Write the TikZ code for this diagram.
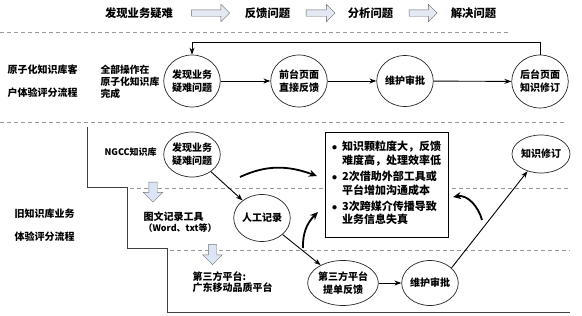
\documentclass[tikz,border=0pt]{standalone}
\usepackage{fontspec}
\setmainfont{Noto Sans CJK SC}
\usetikzlibrary{shapes.geometric,shapes.arrows,arrows.meta}
\definecolor{arrowgrey}{rgb}{0.89,0.91,0.95}
\definecolor{arrowblue}{rgb}{0.86,0.90,0.96}
\begin{document}
\begin{tikzpicture}[
    x=1pt, y=-1pt,
    every node/.style={font=\bfseries\fontsize{10}{13}\selectfont},
    header/.style={font=\bfseries\fontsize{11.3}{13}\selectfont},
    stage/.style={ellipse, draw=black!85, line width=0.7pt, inner sep=0pt,
        align=center, minimum width=54pt, minimum height=50pt},
    flow/.style={draw, line width=0.9pt, -{Stealth[length=7pt, width=5pt]}},
    bendy/.style={line width=1.8pt, -{Stealth[length=8pt, width=7pt]}},
    lane/.style={draw=black!40, dash pattern=on 4pt off 3pt, line width=0.7pt},
    wall/.style={draw=black!75, line width=0.9pt},
    hollowright/.style={single arrow, draw=black!60, fill=arrowgrey,
        minimum height=38pt, minimum width=17pt, inner sep=3pt,
        single arrow head extend=5.5pt},
    hollowdown/.style={single arrow, shape border rotate=270, draw=black!55,
        fill=arrowblue, minimum height=20pt, minimum width=19pt, inner sep=4pt,
        single arrow head extend=5.5pt},
]
\useasboundingbox (0,0) rectangle (582,316);

\node[header] (h1) at (139,13) {发现业务疑难};
\node[hollowright] (ar1) at (209,13) {};
\node[header] (h2) at (267.5,13) {反馈问题};
\node[hollowright, minimum height=29pt] (ar2) at (319,13) {};
\node[header] (h3) at (370.5,13) {分析问题};
\node[hollowright, minimum height=28pt] (ar3) at (421.5,13) {};
\node[header] (h4) at (473.5,13) {解决问题};

\draw[lane] (0,32) -- (510,32);
\draw[lane] (0,122) -- (567,122);
\draw[lane] (130,188) -- (570,188);
\draw[lane] (170,250) -- (570,250);
\draw[wall] (87,127) -- (87,187) -- (127,187) -- (127,248) -- (167,248)
    -- (167,312) -- (570,312);

\node[anchor=west, align=left] (newlbl) at (4,81.5) {原子化知识库客\\[10pt]户体验评分流程};
\node[anchor=west, align=left, font=\bfseries\fontsize{9.8}{12}\selectfont]
    (alltext) at (97,82) {全部操作在\\原子化知识库\\完成};
\node[stage, minimum width=52pt, minimum height=52pt] (find) at (192,81) {发现业务\\疑难问题};
\node[stage, minimum width=52pt, minimum height=52pt] (front) at (299,81) {前台页面\\直接反馈};
\node[stage, minimum width=47pt, minimum height=51pt] (audit) at (405,81) {维护审批};
\node[stage, minimum width=55pt, minimum height=53pt] (back) at (540,81.5) {后台页面\\知识修订};
\draw[flow] (find) -- (front);
\draw[flow] (front) -- (audit);
\draw[flow] (audit) -- (back);
\draw[flow] (back.north) -- ++(0,-12) -| (find.north);

\node[anchor=west, align=left] (oldlbl) at (11,225.5) {旧知识库业务\\[10pt]体验评分流程};
\node[anchor=west, font=\bfseries\fontsize{9}{11}\selectfont] (ngcc) at (101,152) {NGCC知识库};
\node[hollowdown] (d1) at (153,190) {};
\node[anchor=west, align=left, font=\bfseries\fontsize{10}{11}\selectfont]
    (tool) at (140,222.5) {图文记录工具\\{\fontsize{9}{11}\selectfont（Word、txt等）}};
\node[hollowdown] (d2) at (212.5,252.5) {};
\node[anchor=west, align=left, font=\bfseries\fontsize{10}{11}\selectfont]
    (platform) at (189,282.5) {第三方平台:\\广东移动品质平台};

\node[stage, minimum width=50pt, minimum height=45pt] (find2) at (192,154.5) {发现业务\\疑难问题};
\node[stage, minimum width=55pt, minimum height=47pt] (manual) at (262,218) {人工记录};
\node[stage, minimum width=57pt, minimum height=45pt] (third) at (343,283) {第三方平台\\提单反馈};
\node[stage, minimum width=55pt, minimum height=45pt] (audit2) at (430,283) {维护审批};
\node[stage, minimum width=58pt, minimum height=38pt] (revise) at (541,154) {知识修订};
\draw[flow] (find2) -- (manual);
\draw[flow] (manual) -- (third);
\draw[flow] (third) -- (audit2);
\draw[flow] (audit2.35) -- (revise.232);

\node[draw, fill=white, line width=0.8pt, minimum width=123pt, minimum height=105pt,
    inner sep=0pt, font=\bfseries\fontsize{11}{13}\selectfont] (issues) at (386.5,184.5) {%
    \begin{tabular}{@{}c@{\hspace{5pt}}l@{}}
    $\bullet$ & 知识颗粒度大，反馈\\
              & 难度高，处理效率低\\[3pt]
    $\bullet$ & 2次借助外部工具或\\
              & 平台增加沟通成本\\[3pt]
    $\bullet$ & 3次跨媒介传播导致\\
              & 业务信息失真
    \end{tabular}};

\coordinate (k1a) at (240,177);
\coordinate (k1b) at (317,176);
\coordinate (k2a) at (303,248);
\coordinate (k2b) at (318,212);
\coordinate (k3a) at (482,220);
\coordinate (k3b) at (453,197);
\draw[bendy] (k1a) to[out=25, in=160] (k1b);
\draw[bendy] (k2a) to[out=92, in=225] (k2b);
\draw[bendy] (k3a) to[out=105, in=10] (k3b);
\end{tikzpicture}
\end{document}
